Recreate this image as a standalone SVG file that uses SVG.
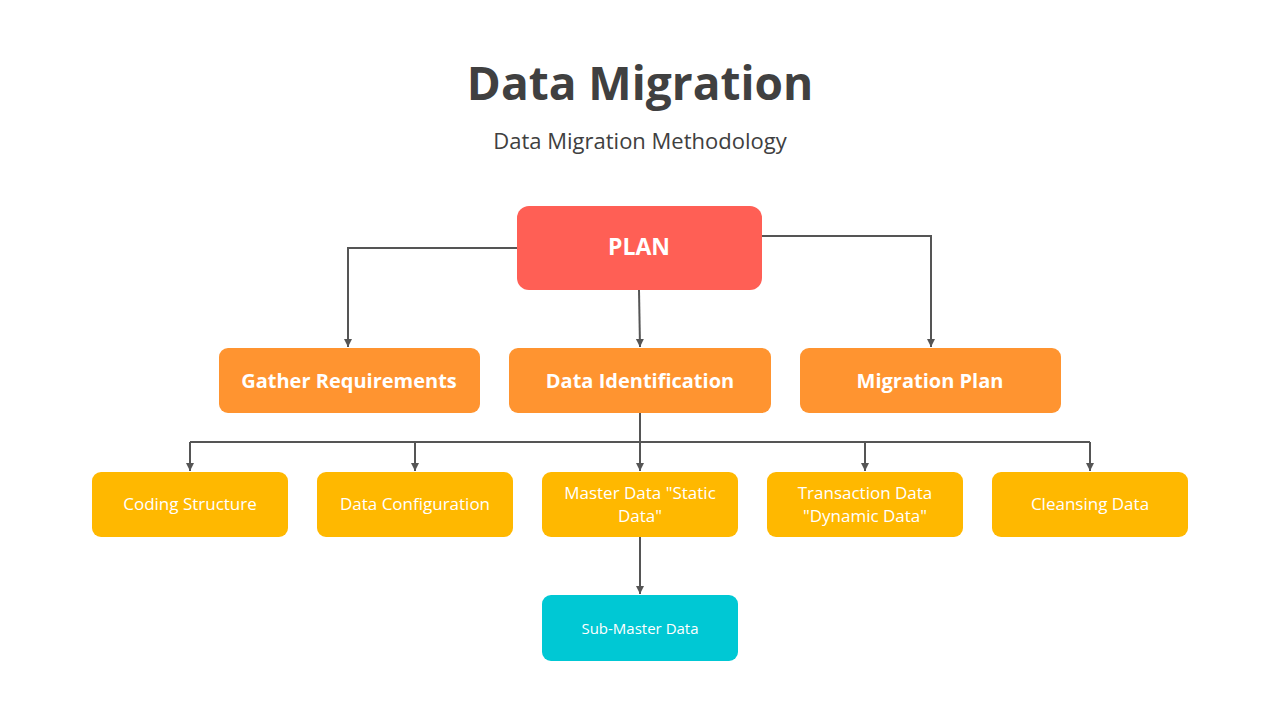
<svg xmlns="http://www.w3.org/2000/svg" width="1280" height="720" viewBox="0 0 1280 720">
<style>
text{font-family:"Open Sans","Noto Sans",sans-serif;text-anchor:middle}
.t{font-size:46px;font-weight:bold;fill:#404040}
.s{font-size:22px;fill:#404040}
.b{font-size:20px;font-weight:bold;fill:#fff}
.n{font-size:17px;fill:#fff}
.c{fill:none;stroke:#555;stroke-width:2}
</style>
<defs><marker id="a" markerWidth="8" markerHeight="8" refX="4" refY="7" orient="auto" markerUnits="userSpaceOnUse"><path d="M0,0 L8,0 L4,8z" fill="#555" transform="rotate(0)"/></marker>
<marker id="ah" viewBox="0 0 10 10" markerWidth="8" markerHeight="9" refX="10" refY="5" orient="auto" markerUnits="userSpaceOnUse"><path d="M0,0 L10,5 L0,10z" fill="#555"/></marker></defs>
<rect width="1280" height="720" fill="#fff"/>
<text class="t" x="640" y="100">Data Migration</text>
<text class="s" x="640" y="149">Data Migration Methodology</text>
<g id="connectors">
<path class="c" d="M517,248 H348 V347" marker-end="url(#ah)"/>
<path class="c" d="M750,236 H931 V347" marker-end="url(#ah)"/>
<path class="c" d="M639,290 L640,347" marker-end="url(#ah)"/>
<path class="c" d="M640,413 V442 M190,442 H1090"/>
<path class="c" d="M190,442 V471" marker-end="url(#ah)"/>
<path class="c" d="M415,442 V471" marker-end="url(#ah)"/>
<path class="c" d="M640,442 V471" marker-end="url(#ah)"/>
<path class="c" d="M865,442 V471" marker-end="url(#ah)"/>
<path class="c" d="M1090,442 V471" marker-end="url(#ah)"/>
<path class="c" d="M640,537 V594" marker-end="url(#ah)"/>
</g>
<g id="plan"><rect x="517" y="206" width="245" height="84" rx="12" fill="#FF5F55"/><text class="b" x="639" y="255" style="font-size:23px">PLAN</text></g>
<g id="gather"><rect x="219" y="348" width="261" height="65" rx="9" fill="#FF9430"/><text class="b" x="349" y="388">Gather Requirements</text></g>
<g id="dataid"><rect x="509" y="348" width="262" height="65" rx="9" fill="#FF9430"/><text class="b" x="640" y="388">Data Identification</text></g>
<g id="migplan"><rect x="800" y="348" width="261" height="65" rx="9" fill="#FF9430"/><text class="b" x="930" y="388">Migration Plan</text></g>
<g id="coding"><rect x="92" y="472" width="196" height="65" rx="9" fill="#FFB800"/><text class="n" x="190" y="510">Coding Structure</text></g>
<g id="config"><rect x="317" y="472" width="196" height="65" rx="9" fill="#FFB800"/><text class="n" x="415" y="510">Data Configuration</text></g>
<g id="master"><rect x="542" y="472" width="196" height="65" rx="9" fill="#FFB800"/><text class="n" x="640" y="499">Master Data "Static</text><text class="n" x="640" y="522">Data"</text></g>
<g id="trans"><rect x="767" y="472" width="196" height="65" rx="9" fill="#FFB800"/><text class="n" x="865" y="499">Transaction Data</text><text class="n" x="865" y="522">"Dynamic Data"</text></g>
<g id="cleansing"><rect x="992" y="472" width="196" height="65" rx="9" fill="#FFB800"/><text class="n" x="1090" y="510">Cleansing Data</text></g>
<g id="submaster"><rect x="542" y="595" width="196" height="66" rx="9" fill="#00C8D4"/><text class="n" x="640" y="634" style="font-size:15px">Sub-Master Data</text></g>
</svg>
